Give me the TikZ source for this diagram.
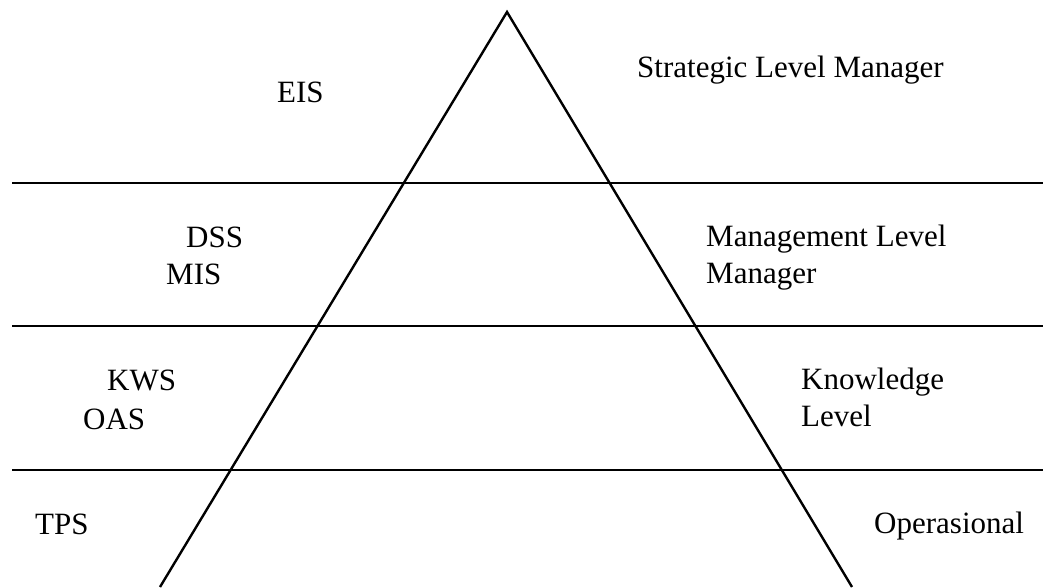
\documentclass[tikz,border=0pt]{standalone}
\usepackage{fontspec}
\setmainfont{Liberation Serif}

\begin{document}
\begin{tikzpicture}[x=1pt, y=-1pt,
  lbl/.style={anchor=base west, inner sep=0pt, font=\fontsize{31}{37}\selectfont, align=left},
  leg/.style={line width=2.4pt},
  band/.style={line width=2pt}]
\useasboundingbox (0,0) rectangle (1043,587);

% pyramid
\coordinate (top) at (507,12);
\coordinate (bl) at (160,587);
\coordinate (br) at (852,587);
\draw[leg, line join=miter] (bl) -- (top) -- (br);

% level boundaries
\foreach \y in {183,326,470}
  \draw[band] (12,\y) -- (1043,\y);

% systems
\node[lbl] (eis) at (277,102) {EIS};
\node[lbl] (dss) at (186,247) {DSS};
\node[lbl] (mis) at (166,284) {MIS};
\node[lbl] (kws) at (107,390) {KWS};
\node[lbl] (oas) at (83,429) {OAS};
\node[lbl] (tps) at (35,534) {TPS};

% levels (two-line labels sit on their last baseline)
\node[lbl] (strat) at (637,77) {Strategic Level Manager};
\node[lbl] (mgmt) at (706,283) {Management Level\\Manager};
\node[lbl] (know) at (801,426) {Knowledge\\Level};
\node[lbl] (oper) at (874,533) {Operasional};
\end{tikzpicture}
\end{document}
